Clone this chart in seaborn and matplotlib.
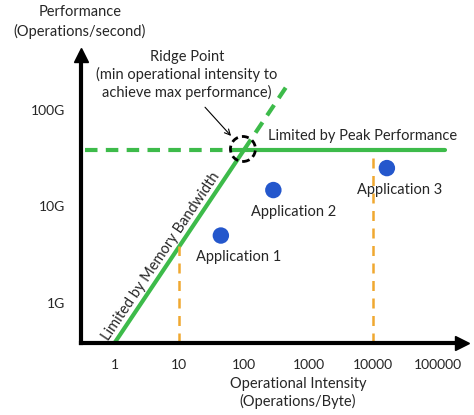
import numpy as np
import pandas as pd
import seaborn as sns
import matplotlib.pyplot as plt
from matplotlib.patches import Ellipse

# roofline values
x_ticks = [1, 10, 100, 1000, 10000, 100000]
x_tick_labels = ['1', '10', '100', '1000', '10000', '100000']
y_ticks = [1e9, 1e10, 1e11]
y_tick_labels = ['1G', '10G', '100G']

peak_perf = 38.5e9        # ops/s
mem_bw = 0.385e9          # ops/s per (ops/byte)
ridge = 100               # ops/byte

app_names = ['Application 1', 'Application 2', 'Application 3']
app_intensity = [44, 285, 16200]
app_perf = [5.0e9, 14.8e9, 25e9]

green = '#3dbb4a'
blue = '#2457cc'
orange = '#f0a830'

sns.set_style('white')
plt.rcParams['font.family'] = ['Lato', 'DejaVu Sans']

fig = plt.figure(figsize=(4.74, 4.15), dpi=100)
ax = fig.add_axes([0, 0, 1, 1])
ax.set_xscale('log')
ax.set_yscale('log')
ax.set_xlim(10**-1.77, 10**5.556)
ax.set_ylim(10**7.839, 10**12.14)

x0, x_end = 10**-0.52, 10**5.37
y0, y_end = 10**8.585, 10**11.57

# memory bound + peak lines
mem = pd.DataFrame({'x': [1, ridge], 'y': [mem_bw * 1, mem_bw * ridge]})
mem_ext = pd.DataFrame({'x': [ridge, 468], 'y': [mem_bw * ridge, mem_bw * 468]})
peak = pd.DataFrame({'x': [ridge, 129000], 'y': [peak_perf, peak_perf]})
peak_ext = pd.DataFrame({'x': [0.35, ridge], 'y': [peak_perf, peak_perf]})

sns.lineplot(data=mem, x='x', y='y', color=green, lw=3, ax=ax)
sns.lineplot(data=peak, x='x', y='y', color=green, lw=3, ax=ax)
ax.plot(mem_ext['x'], mem_ext['y'], color=green, lw=3, ls=(0, (3, 2)))
ax.plot(peak_ext['x'], peak_ext['y'], color=green, lw=3, ls=(0, (3, 2)))

# orange guides
ax.plot([10, 10], [y0, mem_bw * 10], color=orange, lw=1.8, ls=(0, (4, 3)))
ax.plot([10000, 10000], [y0, peak_perf * 0.88], color=orange, lw=1.8, ls=(0, (4, 3)))

# applications
apps = pd.DataFrame({'name': app_names, 'x': app_intensity, 'y': app_perf})
sns.scatterplot(data=apps, x='x', y='y', color=blue, s=140, edgecolor='none', ax=ax, zorder=5)
label_off = [(0.27, 0.72), (0.32, 0.73), (0.19, 0.73)]
for (_, r), (dx, dy) in zip(apps.iterrows(), label_off):
    ax.text(r['x'] * 10**dx, r['y'] * 10**(-dy / 3.2), r['name'],
            ha='center', va='center', fontsize=10.5)

# ridge point circle (in display units through axes transform)
circ = Ellipse((0.5125, 0.641), 25 / 474, 25 / 415, transform=ax.transAxes,
               fill=False, ec='black', lw=2, ls=(0, (2.5, 1.5)), zorder=6)
ax.add_patch(circ)
ax.annotate('', xy=(10**1.83, 10**10.71), xytext=(10**1.37, 10**11.05),
            arrowprops=dict(arrowstyle='->', color='black', lw=0.8))
ax.text(10**1.12, 10**11.36, 'Ridge Point\n(min operational intensity to\nachieve max performance)',
        ha='center', va='center', fontsize=10.5, linespacing=1.25)

ax.text(10**3.83, 10**10.73, 'Limited by Peak Performance', ha='center', va='center', fontsize=10.5)
ax.text(10**0.72, 10**9.48, 'Limited by Memory Bandwidth', ha='center', va='center',
        fontsize=10.5, rotation=56, rotation_mode='anchor')

# axes as arrows
for s in ['top', 'right']:
    ax.spines[s].set_visible(False)
ax.spines['left'].set_position(('data', x0))
ax.spines['bottom'].set_position(('data', y0))
ax.spines['left'].set_bounds(y0, y_end)
ax.spines['bottom'].set_bounds(x0, x_end)
for s in ['left', 'bottom']:
    ax.spines[s].set_linewidth(3)
    ax.spines[s].set_color('black')
ax.plot([x_end], [y0], marker='>', color='black', ms=10, clip_on=False)
ax.plot([x0], [y_end], marker='^', color='black', ms=10, clip_on=False)

ax.set_xticks(x_ticks, x_tick_labels)
ax.set_yticks(y_ticks, y_tick_labels)
ax.minorticks_off()
ax.tick_params(direction='inout', length=9, width=2, color='black', labelsize=10, pad=7)
ax.xaxis.get_major_ticks()[0].tick1line.set_visible(False)
ax.set_xlabel('')
ax.set_ylabel('')

ax.text(298 / 474, 1 - 393 / 415, 'Operational Intensity\n(Operations/Byte)', transform=ax.transAxes,
        ha='center', va='center', fontsize=10.5, linespacing=1.3)
ax.text(80 / 474, 1 - 22 / 415, 'Performance\n(Operations/second)', transform=ax.transAxes,
        ha='center', va='center', fontsize=10.5, linespacing=1.4)

fig.savefig('out.png', dpi=100)
